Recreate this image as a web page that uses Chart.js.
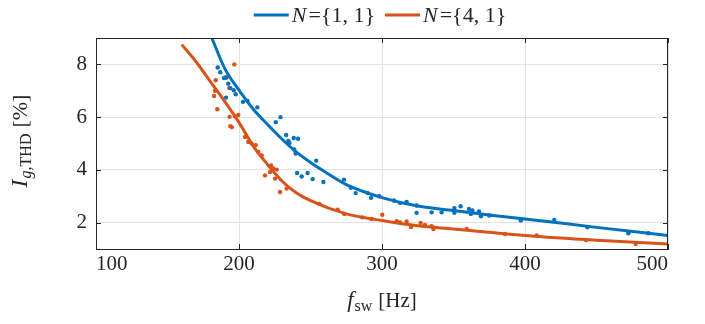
<!DOCTYPE html>
<html>
<head>
<meta charset="utf-8">
<script src="https://cdn.jsdelivr.net/npm/chart.js@4/dist/chart.umd.min.js"></script>
<style>
  html, body { margin: 0; padding: 0; background: #fff; }
  #wrap { width: 705px; height: 324px; }
</style>
</head>
<body>
<div id="wrap"><canvas id="thdChart"></canvas></div>
<script>
// measured points, N={1,1}
const blueDotF = [185.1, 186.9, 189.5, 190.7, 192.5, 193.9, 196.3, 197.7, 190.9, 202.8,
    206, 212.8, 225.7, 229, 233, 234.5, 235.2, 238.3, 241.3, 238.6,
    239.6, 254, 240.6, 243.8, 248, 251.5, 259, 273.4, 278.3, 281.6,
    290, 292.3, 298.1, 308.4, 312.6, 317.2, 324.2, 324.2, 334.7, 341.7,
    350.6, 350.6, 355, 360.8, 362.2, 363.2, 367.8, 369.2, 375, 397,
    420.5, 443.6, 472.3, 486.3];
const blueDotV = [7.88, 7.70, 7.48, 7.50, 7.27, 7.10, 7.02, 6.87, 6.74, 6.58,
    6.61, 6.37, 5.81, 6.0, 5.32, 5.1, 5.02, 5.21, 5.18, 4.77,
    4.62, 4.35, 3.88, 3.75, 3.88, 3.65, 3.54, 3.63, 3.32, 3.12,
    3.12, 2.94, 3.0, 2.84, 2.75, 2.78, 2.65, 2.37, 2.39, 2.39,
    2.55, 2.37, 2.62, 2.52, 2.33, 2.46, 2.42, 2.24, 2.27, 2.08,
    2.1, 1.82, 1.6, 1.6];

// measured points, N={4,1}
const orangeDotF = [182.5, 183.2, 183.7, 184.8, 191.3, 193.2, 196.7, 193.4, 197.1, 193.9,
    195.0, 199.5, 204.2, 206.5, 208.8, 211.7, 213.5, 215.9, 222.4, 224,
    226.4, 218.2, 221.7, 225.2, 228.7, 233.3, 256.2, 269, 273.6, 286.2,
    292.8, 300.2, 310.3, 312.6, 317.2, 320.3, 327, 330, 334.7, 335.9,
    359.2, 386, 408.2, 442.7, 477.4];
const orangeDotV = [6.8, 7.0, 7.4, 6.3, 7.5, 7.1, 8.0, 6.01, 6.03, 5.66,
    5.62, 6.08, 5.25, 5.06, 5.0, 4.94, 4.68, 4.55, 4.17, 4.05,
    4.01, 3.79, 3.92, 3.67, 3.16, 3.29, 2.71, 2.49, 2.33, 2.2,
    2.14, 2.3, 2.05, 2.01, 2.04, 1.83, 1.99, 1.91, 1.86, 1.76,
    1.76, 1.57, 1.51, 1.34, 1.19];

// fitted curves
const blueLineF = [181, 190, 200, 210, 220, 230, 240, 250, 260, 275, 300, 325, 350, 375, 400, 450, 500];
const blueLineV = [9.0, 7.85, 7.02, 6.3, 5.72, 5.17, 4.68, 4.28, 3.93, 3.44, 2.95, 2.63, 2.46, 2.29, 2.14, 1.82, 1.51];
const orangeLineF = [160, 170, 180, 190, 200, 210, 220, 230, 240, 250, 275, 300, 325, 350, 400, 450, 500];
const orangeLineV = [8.75, 8.1, 7.35, 6.6, 5.8, 4.9, 4.2, 3.58, 3.13, 2.83, 2.33, 2.08, 1.88, 1.76, 1.51, 1.33, 1.19];

const xTicks = [100, 200, 300, 400, 500];
const yTicks = [2, 4, 6, 8];
const seriesNames = ["{1, 1}", "{4, 1}"];

const BLUE = "#0072BD";
const ORANGE = "#D95319";
const SERIF = "'Liberation Serif', 'DejaVu Serif', serif";

const pts = (fs, vs) => fs.map((f, i) => ({ x: f, y: vs[i] }));

// draw a run of text pieces with different fonts, anchored at the centre
function drawRich(ctx, parts, cx, baseY) {
    let total = 0;
    parts.forEach(p => {
        ctx.font = p.font;
        p.w = ctx.measureText(p.t).width;
        total += p.w + (p.gap || 0);
    });
    let x = cx - total / 2;
    ctx.textAlign = "left";
    ctx.textBaseline = "alphabetic";
    parts.forEach(p => {
        ctx.font = p.font;
        ctx.fillText(p.t, x, baseY + (p.dy || 0));
        x += p.w + (p.gap || 0);
    });
}

const decorations = {
    id: "decorations",
    afterDraw(chart) {
        const ctx = chart.ctx;
        const a = chart.chartArea;
        const xs = chart.scales.x, ys = chart.scales.y;
        ctx.save();

        // box + inward ticks
        ctx.strokeStyle = "#262626";
        ctx.lineWidth = 1;
        ctx.beginPath();
        ctx.moveTo(a.left, a.top + 0.5); ctx.lineTo(a.right, a.top + 0.5);
        ctx.moveTo(a.right - 0.5, a.top); ctx.lineTo(a.right - 0.5, a.bottom);
        xTicks.forEach(v => {
            const px = Math.round(xs.getPixelForValue(v)) + 0.5;
            ctx.moveTo(px, a.bottom); ctx.lineTo(px, a.bottom - 5);
            ctx.moveTo(px, a.top); ctx.lineTo(px, a.top + 5);
        });
        yTicks.forEach(v => {
            const py = Math.round(ys.getPixelForValue(v)) + 0.5;
            ctx.moveTo(a.left, py); ctx.lineTo(a.left + 5, py);
            ctx.moveTo(a.right, py); ctx.lineTo(a.right - 5, py);
        });
        ctx.stroke();

        ctx.fillStyle = "#262626";

        // legend
        const cols = [BLUE, ORANGE];
        const itemW = [], lineLen = 35, gapA = 3, gapB = 10;
        ctx.font = "italic 22px " + SERIF;
        const nW = ctx.measureText("N").width;
        ctx.font = "22px " + SERIF;
        seriesNames.forEach(s => itemW.push(lineLen + gapA + nW + 2 + ctx.measureText("=" + s).width));
        let lx = 380 - (itemW[0] + gapB + itemW[1]) / 2;
        seriesNames.forEach((s, i) => {
            ctx.strokeStyle = cols[i];
            ctx.lineWidth = 3;
            ctx.beginPath();
            ctx.moveTo(lx, 15); ctx.lineTo(lx + lineLen, 15);
            ctx.stroke();
            ctx.textAlign = "left";
            ctx.textBaseline = "alphabetic";
            ctx.font = "italic 22px " + SERIF;
            ctx.fillText("N", lx + lineLen + gapA, 22);
            ctx.font = "22px " + SERIF;
            ctx.fillText("=" + s, lx + lineLen + gapA + nW + 2, 22);
            lx += itemW[i] + gapB;
        });

        // x title
        drawRich(ctx, [
            { t: "f", font: "italic 23px " + SERIF, gap: 1 },
            { t: "sw", font: "16px " + SERIF, dy: 4, gap: 6 },
            { t: "[Hz]", font: "21px " + SERIF }
        ], (a.left + a.right) / 2, 307);

        // y title (rotated)
        ctx.save();
        ctx.translate(27, 141);
        ctx.rotate(-Math.PI / 2);
        drawRich(ctx, [
            { t: "I", font: "italic 24px " + SERIF, gap: 1 },
            { t: "g", font: "italic 16px " + SERIF, dy: 4 },
            { t: ",THD", font: "16px " + SERIF, dy: 4, gap: 6 },
            { t: "[%]", font: "22px " + SERIF }
        ], 0, 0);
        ctx.restore();

        ctx.restore();
    }
};

new Chart(document.getElementById("thdChart"), {
    type: "scatter",
    data: {
        datasets: [
            {
                label: "N=" + seriesNames[0] + " fit",
                data: pts(blueLineF, blueLineV),
                showLine: true,
                borderColor: BLUE,
                borderWidth: 3,
                pointRadius: 0,
                cubicInterpolationMode: "monotone",
                order: 0
            },
            {
                label: "N=" + seriesNames[1] + " fit",
                data: pts(orangeLineF, orangeLineV),
                showLine: true,
                borderColor: ORANGE,
                borderWidth: 3,
                pointRadius: 0,
                cubicInterpolationMode: "monotone",
                order: 0
            },
            {
                label: "N=" + seriesNames[0],
                data: pts(blueDotF, blueDotV),
                backgroundColor: BLUE,
                borderWidth: 0,
                pointRadius: 2.2,
                order: 1
            },
            {
                label: "N=" + seriesNames[1],
                data: pts(orangeDotF, orangeDotV),
                backgroundColor: ORANGE,
                borderWidth: 0,
                pointRadius: 2.2,
                order: 1
            }
        ]
    },
    options: {
        responsive: true,
        maintainAspectRatio: false,
        animation: false,
        devicePixelRatio: 1,
        layout: { padding: { left: 0, right: 37, top: 38, bottom: 0 } },
        plugins: {
            legend: { display: false },
            tooltip: { enabled: false }
        },
        scales: {
            x: {
                type: "linear",
                min: 100,
                max: 500,
                afterBuildTicks: s => { s.ticks = xTicks.map(v => ({ value: v })); },
                afterFit: s => { s.height = 75; },
                grid: { color: "#e3e3e3", drawTicks: false },
                border: { color: "#262626" },
                ticks: {
                    font: { family: SERIF, size: 21 },
                    color: "#262626",
                    padding: 3,
                    align: "inner",
                    maxRotation: 0
                }
            },
            y: {
                min: 1,
                max: 9,
                afterBuildTicks: s => { s.ticks = yTicks.map(v => ({ value: v })); },
                afterFit: s => { s.width = 96; },
                grid: { color: "#e3e3e3", drawTicks: false },
                border: { color: "#262626" },
                ticks: {
                    font: { family: SERIF, size: 21 },
                    color: "#262626",
                    padding: 9
                }
            }
        }
    },
    plugins: [decorations]
});
</script>
</body>
</html>
